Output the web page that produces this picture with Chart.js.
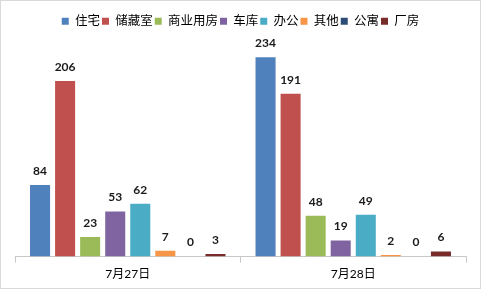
<!DOCTYPE html>
<html>
<head>
<meta charset="utf-8">
<script src="https://cdn.jsdelivr.net/npm/chart.js@4/dist/chart.umd.min.js"></script>
<style>
html,body{margin:0;padding:0;background:#fff;}
#wrap{width:481px;height:289px;position:relative;}
</style>
</head>
<body>
<div id="wrap"><canvas id="c"></canvas></div>
<script>
const categories = ['7月27日', '7月28日'];
const seriesNames = ['住宅', '储藏室', '商业用房', '车库', '办公', '其他', '公寓', '厂房'];
const zhuzhai = [84, 234];
const chucangshi = [206, 191];
const shangye = [23, 48];
const cheku = [53, 19];
const bangong = [62, 49];
const qita = [7, 2];
const gongyu = [0, 0];
const changfang = [3, 6];
const seriesValues = [zhuzhai, chucangshi, shangye, cheku, bangong, qita, gongyu, changfang];
const colors = ['#4F81BD', '#C0504D', '#9BBB59', '#8064A2', '#4BACC6', '#F79646', '#2C4D75', '#772C2A'];

const FONT = 'Lato, "Noto Sans CJK SC", sans-serif';

const labelPlugin = {
  id: 'valueLabels',
  afterDatasetsDraw(chart) {
    const ctx = chart.ctx;
    ctx.save();
    ctx.font = 'bold 12px ' + FONT;
    ctx.fillStyle = '#1a1a1a';
    ctx.textAlign = 'center';
    ctx.textBaseline = 'middle';
    chart.data.datasets.forEach((ds, i) => {
      const meta = chart.getDatasetMeta(i);
      meta.data.forEach((el, j) => {
        ctx.fillText(String(ds.data[j]), el.x, el.y - 14);
      });
    });
    ctx.restore();
  }
};

const borderPlugin = {
  id: 'outerBorder',
  afterDraw(chart) {
    const ctx = chart.ctx;
    ctx.save();
    ctx.strokeStyle = '#D9D9D9';
    ctx.lineWidth = 1;
    ctx.strokeRect(0.5, 0.5, chart.width - 1, chart.height - 1);
    ctx.restore();
  }
};

const legendSpacer = {
  id: 'legendSpacer',
  beforeInit(chart) {
    const orig = chart.legend.fit;
    chart.legend.fit = function() {
      orig.call(this);
      this.height += 6;
    };
  }
};

new Chart(document.getElementById('c'), {
  type: 'bar',
  data: {
    labels: categories,
    datasets: seriesNames.map((n, i) => ({
      label: n,
      data: seriesValues[i],
      backgroundColor: colors[i],
      borderWidth: 0,
      barPercentage: 0.8,
      categoryPercentage: 0.889
    }))
  },
  options: {
    responsive: true,
    maintainAspectRatio: false,
    animation: false,
    devicePixelRatio: 1,
    layout: { padding: { top: 13, left: 15, right: 15, bottom: 4 } },
    plugins: {
      legend: {
        position: 'top',
        labels: {
          boxWidth: 7,
          boxHeight: 7,
          padding: 2,
          color: '#000',
          font: { family: FONT, size: 12.5 }
        }
      },
      tooltip: { enabled: false }
    },
    scales: {
      x: {
        grid: {
          offset: true,
          drawOnChartArea: false,
          drawTicks: true,
          tickLength: 6,
          color: '#C8C8C8'
        },
        border: { color: '#C8C8C8' },
        ticks: { color: '#000', font: { family: FONT, size: 12 }, padding: 4 }
      },
      y: {
        display: false,
        min: 0,
        max: 250
      }
    }
  },
  plugins: [labelPlugin, borderPlugin, legendSpacer]
});
</script>
</body>
</html>
